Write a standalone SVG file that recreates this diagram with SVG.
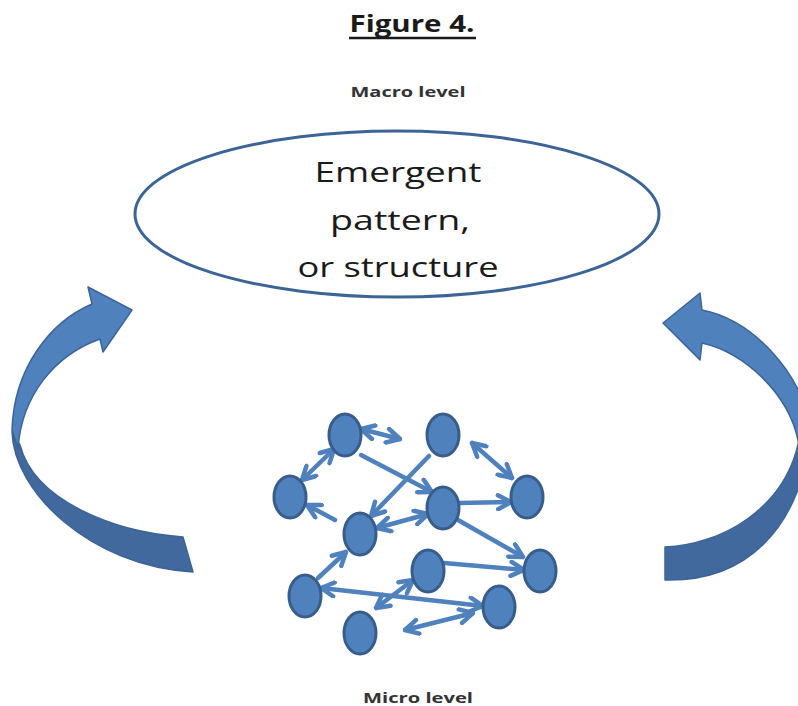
<svg xmlns="http://www.w3.org/2000/svg" width="798" height="706" viewBox="0 0 798 706">
<defs>
<style>
.lbl{font-family:"Open Sans","Liberation Sans",sans-serif;fill:#1a1a1a;}
.small{font-family:"Open Sans","Liberation Sans",sans-serif;font-weight:bold;font-size:15px;fill:#333;}
.node{fill:#4f81bd;stroke:#385d8a;stroke-width:3;}
.con{stroke:#4f81bd;stroke-width:4.5;fill:none;stroke-linecap:round;}
.one{marker-end:url(#ah);}
.two{marker-end:url(#ah);marker-start:url(#ah);}
.front{fill:#4f81bd;stroke:#3d6496;stroke-width:1.5;stroke-linejoin:round;}
.back{fill:#41699d;stroke:#3d6496;stroke-width:1.5;stroke-linejoin:round;}
</style>
<marker id="ah" viewBox="0 0 18 18" refX="16" refY="9" markerWidth="18" markerHeight="18" markerUnits="userSpaceOnUse" orient="auto-start-reverse">
<path d="M3,2 L16,9 L3,16" fill="none" stroke="#4f81bd" stroke-width="4.5" stroke-linecap="round" stroke-linejoin="round"/>
</marker>
</defs>
<rect width="798" height="706" fill="#ffffff"/>

<g id="title">
<text class="lbl" x="412" y="32" font-size="23" font-weight="bold" text-anchor="middle" textLength="125" lengthAdjust="spacingAndGlyphs">Figure 4.</text>
<line x1="349" y1="38" x2="476" y2="38" stroke="#1a1a1a" stroke-width="2.5"/>
</g>

<g id="macro-label">
<text class="small" x="408" y="97" text-anchor="middle" textLength="115" lengthAdjust="spacingAndGlyphs">Macro level</text>
</g>

<g id="emergent">
<ellipse cx="397" cy="214" rx="262" ry="83" fill="#ffffff" stroke="#3c6496" stroke-width="3"/>
<text class="lbl" x="398" y="182" font-size="28" text-anchor="middle" textLength="167" lengthAdjust="spacingAndGlyphs">Emergent</text>
<text class="lbl" x="400" y="230" font-size="28" text-anchor="middle" textLength="140" lengthAdjust="spacingAndGlyphs">pattern,</text>
<text class="lbl" x="398" y="277" font-size="28" text-anchor="middle" textLength="201" lengthAdjust="spacingAndGlyphs">or structure</text>
</g>

<g id="left-arrow">
<path class="back" d="M12,432 C14,492 90,566 193,572 L183,537 C112,532 34,500 20,445 Z"/>
<path class="front" d="M88,287 L132,310 L103,352 L100,339 C55,355 22,395 18,448 L12,430 C14,368 50,322 92,304 Z"/>
</g>

<g id="right-arrow">
<path class="back" d="M665,547 C720,545 785,510 799,440 L810,435 C800,530 745,582 665,580 Z"/>
<path class="front" d="M700,293 L663,323 L700,360 L702,343 C742,352 790,392 799,445 L812,430 C800,370 752,320 702,310 Z"/>
</g>

<g id="connectors">
<line class="con two" x1="361" y1="429" x2="400" y2="439"/>
<line class="con one" x1="361" y1="455" x2="432" y2="492"/>
<line class="con one" x1="429" y1="456" x2="371" y2="516"/>
<line class="con two" x1="334" y1="449" x2="302" y2="480"/>
<line class="con two" x1="472" y1="443" x2="512" y2="478"/>
<line class="con one" x1="459" y1="503" x2="511" y2="502"/>
<line class="con one" x1="335" y1="520" x2="307" y2="505"/>
<line class="con two" x1="377" y1="528" x2="428" y2="514"/>
<line class="con one" x1="458" y1="520" x2="523" y2="557"/>
<line class="con one" x1="444" y1="563" x2="524" y2="570"/>
<line class="con one" x1="318" y1="578" x2="346" y2="552"/>
<line class="con two" x1="321" y1="588" x2="483" y2="606"/>
<line class="con two" x1="376" y1="608" x2="413" y2="580"/>
<line class="con two" x1="405" y1="630" x2="473" y2="613"/>
</g>

<g id="n1"><ellipse class="node" cx="345" cy="435" rx="16" ry="21"/></g>
<g id="n2"><ellipse class="node" cx="443" cy="435" rx="16" ry="21"/></g>
<g id="n3"><ellipse class="node" cx="290" cy="497" rx="16" ry="21"/></g>
<g id="n4"><ellipse class="node" cx="527" cy="497" rx="16" ry="21"/></g>
<g id="n5"><ellipse class="node" cx="443" cy="508" rx="16" ry="21"/></g>
<g id="n6"><ellipse class="node" cx="360" cy="534" rx="16" ry="21"/></g>
<g id="n7"><ellipse class="node" cx="428" cy="571" rx="16" ry="21"/></g>
<g id="n8"><ellipse class="node" cx="540" cy="571" rx="16" ry="21"/></g>
<g id="n9"><ellipse class="node" cx="305" cy="596" rx="16" ry="21"/></g>
<g id="n10"><ellipse class="node" cx="499" cy="607" rx="16" ry="21"/></g>
<g id="n11"><ellipse class="node" cx="360" cy="633" rx="16" ry="21"/></g>

<g id="micro-label">
<text class="small" x="418" y="703" text-anchor="middle" textLength="110" lengthAdjust="spacingAndGlyphs">Micro level</text>
</g>
</svg>
